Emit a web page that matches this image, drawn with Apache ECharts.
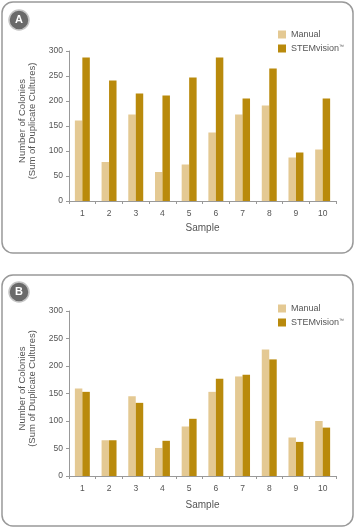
<!DOCTYPE html>
<html><head><meta charset="utf-8">
<script src="https://cdn.jsdelivr.net/npm/echarts@6/dist/echarts.min.js"></script>
<style>html,body{margin:0;padding:0;background:#fff}#c{width:356px;height:528px}</style>
</head><body><div id="c"></div>
<script>
const samples = ['1','2','3','4','5','6','7','8','9','10'];
const manualA = [161, 78, 173, 58, 73, 137, 173, 191, 87, 103];
const stemA   = [287, 241, 215, 211, 247, 287, 205, 265, 97, 205];
const manualB = [159, 65, 145, 51, 90, 153, 181, 230, 70, 100];
const stemB   = [153, 65, 133, 64, 104, 177, 184, 212, 62, 88];
const yTicks = [0, 50, 100, 150, 200, 250, 300];
const seriesNames = ['Manual', 'STEMvision™'];
const panelLabels = ['A', 'B'];
const yTitle = 'Number of Colonies\n(Sum of Duplicate Cultures)';
const xTitle = 'Sample';

const cManual = '#E4C993';
const cStem = '#B98A0C';
const axisGray = '#999';
const textGray = '#555';

const chart = echarts.init(document.getElementById('c'), null, {renderer: 'canvas'});

function xAxis(idx, gap) {
  return {
    type: 'category', gridIndex: idx, data: samples,
    name: xTitle, nameLocation: 'middle', nameGap: gap,
    nameTextStyle: {color: textGray, fontSize: 10, fontFamily: 'Liberation Sans'},
    axisLine: {lineStyle: {color: axisGray, width: 1}},
    axisTick: {show: true, length: 3, lineStyle: {color: axisGray}},
    axisLabel: {color: textGray, fontSize: 8.5, fontFamily: 'Liberation Sans', margin: 8}
  };
}
function yAxis(idx) {
  return {
    type: 'value', gridIndex: idx, min: yTicks[0], max: yTicks[yTicks.length - 1], interval: 50,
    name: yTitle, nameLocation: 'middle', nameGap: 31, nameRotate: 90,
    nameTextStyle: {color: textGray, fontSize: 9.5, fontFamily: 'Liberation Sans', lineHeight: 10.5, padding: [0, 0, 0, 10]},
    axisLine: {show: true, lineStyle: {color: axisGray, width: 1}},
    axisTick: {show: true, length: 3, lineStyle: {color: axisGray}},
    splitLine: {show: false},
    axisLabel: {color: textGray, fontSize: 8.5, fontFamily: 'Liberation Sans', margin: 6}
  };
}
function legend(top) {
  return {
    data: seriesNames, orient: 'vertical', left: 273, top: top,
    itemWidth: 8, itemHeight: 8, itemGap: 5,
    icon: 'rect',
    textStyle: {color: textGray, fontSize: 9, fontFamily: 'Liberation Sans',
      rich: {tm: {fontSize: 5, verticalAlign: 'top', color: textGray, padding: [0,0,4,0]}}},
    formatter: n => n === 'STEMvision™' ? 'STEMvision{tm|™}' : n
  };
}
function bar(name, data, idx, color) {
  return {
    type: 'bar', name: name, data: data, xAxisIndex: idx, yAxisIndex: idx,
    itemStyle: {color: color}, barGap: '0%', barCategoryGap: '44%',
    emphasis: {disabled: true}
  };
}
function badge(cy, label) {
  return [
    {type: 'circle', shape: {cx: 19, cy: cy, r: 10}, style: {fill: '#6a6a6a', stroke: '#c4c4c4', lineWidth: 1.5}},
    {type: 'text', x: 19, y: cy, style: {text: label, fill: '#fff', font: 'bold 11px Liberation Sans', align: 'center', verticalAlign: 'middle'}}
  ];
}

chart.setOption({
  animation: false,
  graphic: [
    {type: 'rect', shape: {x: 2, y: 2, width: 351, height: 251, r: 11}, style: {fill: 'none', stroke: '#999', lineWidth: 1.5}},
    {type: 'rect', shape: {x: 2, y: 275, width: 351, height: 251, r: 11}, style: {fill: 'none', stroke: '#999', lineWidth: 1.5}},
    ...badge(20, panelLabels[0]),
    ...badge(292, panelLabels[1])
  ],
  legend: [legend(25), legend(299)],
  grid: [
    {left: 69, top: 51, width: 267, height: 150},
    {left: 69, top: 311, width: 267, height: 165}
  ],
  xAxis: [xAxis(0, 22), xAxis(1, 24)],
  yAxis: [yAxis(0), yAxis(1)],
  series: [
    bar(seriesNames[0], manualA, 0, cManual),
    bar(seriesNames[1], stemA, 0, cStem),
    bar(seriesNames[0], manualB, 1, cManual),
    bar(seriesNames[1], stemB, 1, cStem)
  ]
});
</script></body></html>
